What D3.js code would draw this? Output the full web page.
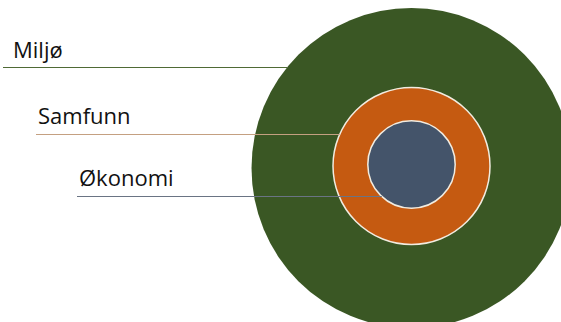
<!DOCTYPE html>
<html><head><meta charset="utf-8">
<script src="https://cdn.jsdelivr.net/npm/d3@7"></script>
<style>html,body{margin:0;padding:0;background:#fff;}svg{display:block;}</style>
</head><body>
<script>
const categories = ["Miljø", "Samfunn", "Økonomi"];
const sizes = [160, 78.5, 43.7];
const fills = ["#3A5724", "#C55A11", "#44546A"];
const lineColors = ["#4F6A35", "#C4A081", "#6A7484"];

const W = 561, H = 322;
const svg = d3.select("body").append("svg").attr("width", W).attr("height", H);

const r = d3.scaleLinear().domain([0, 160]).range([0, 160]);
const cx = 411.5;
const cys = [168, 166, 164.5];
const lineY = [67.5, 134.5, 196.5];
const lineX0 = [3, 36, 77];
const textX = [13, 38, 79];
const textY = [58, 123.5, 186];

categories.forEach((c, i) => {
  svg.append("circle")
    .attr("cx", cx).attr("cy", cys[i]).attr("r", r(sizes[i]))
    .attr("fill", fills[i])
    .attr("stroke", i === 0 ? "none" : "#F2ECE0")
    .attr("stroke-width", 1.5);
});

categories.forEach((c, i) => {
  const R = r(sizes[i]);
  const dy = lineY[i] - cys[i];
  const xEnd = cx - Math.sqrt(Math.max(0, R * R - dy * dy));
  svg.append("line")
    .attr("x1", lineX0[i]).attr("x2", xEnd)
    .attr("y1", lineY[i]).attr("y2", lineY[i])
    .attr("stroke", lineColors[i]).attr("stroke-width", 1);
  svg.append("text")
    .attr("x", textX[i]).attr("y", textY[i])
    .attr("font-family", "'Open Sans', sans-serif")
    .attr("font-size", 22)
    .attr("fill", "#111")
    .text(c);
});
</script>
</body></html>
